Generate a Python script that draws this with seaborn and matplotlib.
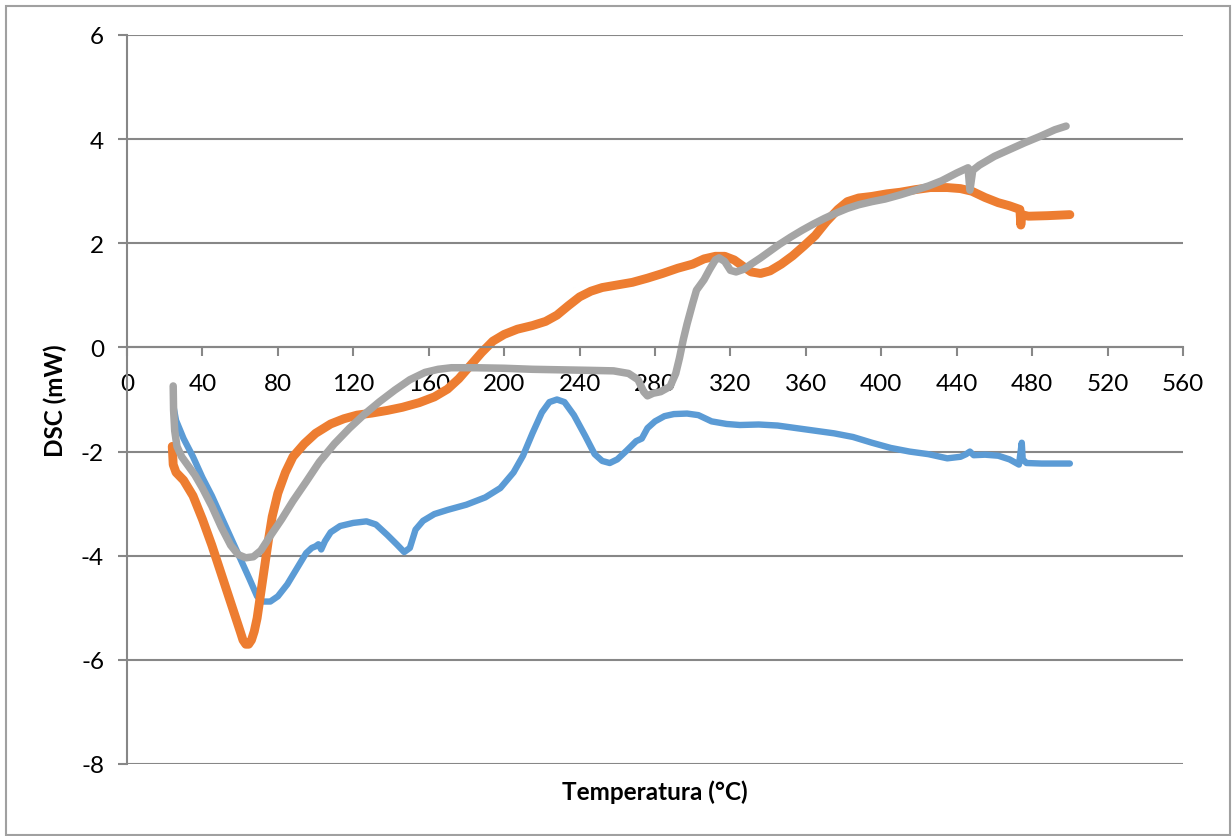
import numpy as np
import pandas as pd
import seaborn as sns
import matplotlib
matplotlib.use("Agg")
import matplotlib.pyplot as plt
from matplotlib.patches import Rectangle

# ---- data ----
blue_T = [24.5, 26, 30, 35, 40, 45, 50, 55, 60, 65, 69, 72, 76, 80, 85, 90, 95, 98, 100, 101.5, 103, 105,
          108, 113, 120, 127, 132, 138, 143, 147, 150, 153, 157, 163, 170, 180, 190, 198, 205, 210, 215,
          220, 224, 228, 232, 237, 243, 248, 252, 256, 260, 265, 270, 273, 276, 280, 285, 290, 297, 303,
          310, 318, 325, 335, 345, 355, 365, 375, 385, 395, 405, 415, 425, 435, 442, 445, 447, 449, 455,
          462, 468, 473, 474.5, 475, 477, 485, 500]
blue_v = [-1.1, -1.4, -1.75, -2.1, -2.5, -2.85, -3.25, -3.65, -4.05, -4.45, -4.78, -4.88, -4.88, -4.78,
          -4.55, -4.25, -3.95, -3.85, -3.82, -3.78, -3.88, -3.72, -3.55, -3.43, -3.37, -3.34, -3.4, -3.6,
          -3.78, -3.93, -3.85, -3.5, -3.33, -3.2, -3.12, -3.02, -2.88, -2.7, -2.4, -2.08, -1.65, -1.25,
          -1.05, -1.0, -1.05, -1.3, -1.7, -2.05, -2.18, -2.22, -2.15, -1.98, -1.8, -1.75, -1.55, -1.42,
          -1.32, -1.28, -1.27, -1.3, -1.42, -1.47, -1.49, -1.48, -1.5, -1.55, -1.6, -1.65, -1.72, -1.83,
          -1.93, -2.0, -2.05, -2.13, -2.1, -2.05, -2.0, -2.07, -2.06, -2.08, -2.15, -2.25, -1.83, -2.15,
          -2.22, -2.23, -2.23]

orange_T = [24, 24.5, 26, 30, 35, 40, 45, 50, 55, 60, 61.5, 63, 64.5, 66, 67.5, 69, 71, 73, 75, 77, 80,
            84, 88, 94, 100, 108, 115, 122, 130, 138, 146, 155, 163, 170, 176, 182, 188, 194, 200, 207,
            215, 222, 228, 234, 240, 246, 252, 260, 268, 276, 284, 292, 300, 306, 312, 317, 322, 327, 331,
            336, 341, 347, 353, 359, 365, 371, 377, 382, 388, 395, 403, 410, 418, 426, 435, 442, 448, 455,
            462, 468, 473.5, 474, 474.5, 478, 488, 500]
orange_v = [-1.9, -2.25, -2.4, -2.55, -2.85, -3.3, -3.8, -4.35, -4.9, -5.45, -5.62, -5.7, -5.7, -5.62,
            -5.45, -5.2, -4.7, -4.2, -3.7, -3.25, -2.8, -2.4, -2.1, -1.85, -1.65, -1.47, -1.37, -1.3,
            -1.26, -1.21, -1.15, -1.06, -0.95, -0.8, -0.6, -0.35, -0.1, 0.12, 0.25, 0.35, 0.42, 0.5,
            0.62, 0.8, 0.97, 1.08, 1.15, 1.2, 1.25, 1.33, 1.42, 1.52, 1.6, 1.7, 1.75, 1.75, 1.68, 1.55,
            1.45, 1.42, 1.47, 1.6, 1.76, 1.95, 2.15, 2.42, 2.65, 2.8, 2.87, 2.9, 2.95, 2.98, 3.03, 3.07,
            3.07, 3.05, 3.0, 2.88, 2.78, 2.72, 2.65, 2.35, 2.55, 2.52, 2.53, 2.55]

gray_T = [24.5, 24.7, 25.3, 26.5, 29, 32, 36, 40, 45, 50, 55, 59, 63, 67, 71, 76, 82, 88, 95, 102, 110,
          118, 126, 134, 142, 150, 158, 165, 172, 185, 200, 215, 230, 245, 258, 266, 271, 274, 276, 279,
          283, 288, 291, 293, 295, 297, 300, 302, 306, 309, 312, 314, 317, 320, 323, 327, 331, 336, 341,
          346, 352, 358, 364, 370, 376, 382, 388, 395, 402, 410, 418, 425, 432, 440, 446, 447, 448.5,
          452, 460, 468, 476, 484, 492, 498]
gray_v = [-0.74, -1.2, -1.6, -1.9, -2.1, -2.25, -2.45, -2.7, -3.05, -3.45, -3.8, -3.98, -4.04, -4.02,
          -3.9, -3.62, -3.3, -2.95, -2.58, -2.2, -1.85, -1.55, -1.28, -1.04, -0.82, -0.62, -0.48, -0.42,
          -0.39, -0.39, -0.4, -0.42, -0.43, -0.44, -0.45, -0.5, -0.62, -0.85, -0.93, -0.88, -0.85, -0.75,
          -0.5, -0.2, 0.15, 0.45, 0.85, 1.1, 1.3, 1.5, 1.68, 1.72, 1.65, 1.48, 1.45, 1.5, 1.6, 1.72, 1.85,
          1.98, 2.12, 2.25, 2.37, 2.48, 2.58, 2.67, 2.74, 2.8, 2.85, 2.93, 3.02, 3.1, 3.2, 3.35, 3.45,
          3.02, 3.4, 3.5, 3.67, 3.8, 3.93, 4.05, 4.18, 4.25]

x_ticks = [0, 40, 80, 120, 160, 200, 240, 280, 320, 360, 400, 440, 480, 520, 560]
y_ticks = [-8, -6, -4, -2, 0, 2, 4, 6]
x_label = "Temperatura (°C)"
y_label = "DSC (mW)"

# ---- styling ----
sns.set_theme(style="white")
plt.rcParams["font.family"] = ["Lato", "DejaVu Sans"]

AX_GRAY = "#878787"
fig = plt.figure(figsize=(12.32, 8.37), dpi=100)
ax = fig.add_axes([127 / 1232, 1 - 765 / 837, (1183 - 127) / 1232, (765 - 36) / 837])

series = [
    (blue_T, blue_v, "#5B9BD5", 4.6),
    (orange_T, orange_v, "#ED7D31", 6.4),
    (gray_T, gray_v, "#A5A5A5", 5.4),
]
for T, v, col, lw in series:
    df = pd.DataFrame({"T": T, "v": v})
    sns.lineplot(data=df, x="T", y="v", sort=False, estimator=None, color=col,
                 linewidth=lw, ax=ax, solid_capstyle="round", solid_joinstyle="round")

ax.set_xlim(0, 560)
ax.set_ylim(-8, 6)
ax.set_xticks(x_ticks)
ax.set_yticks(y_ticks)
ax.set_xticklabels([str(t) for t in x_ticks])
ax.set_yticklabels([str(t) for t in y_ticks])

ax.grid(False)
ax.yaxis.grid(True, color=AX_GRAY, linewidth=1.5)
ax.set_axisbelow(True)

for s in ["top", "right"]:
    ax.spines[s].set_visible(False)
ax.spines["bottom"].set_position(("data", 0))
ax.spines["bottom"].set_color(AX_GRAY)
ax.spines["bottom"].set_linewidth(1.5)
ax.spines["left"].set_color(AX_GRAY)
ax.spines["left"].set_linewidth(1.5)

ax.tick_params(axis="x", direction="out", length=6.5, width=1.5, color=AX_GRAY,
               labelsize=17.5, labelcolor="black", pad=12, bottom=True)
ax.tick_params(axis="y", direction="out", length=6.5, width=1.5, color=AX_GRAY,
               labelsize=17.5, labelcolor="black", pad=10, left=True)

ax.set_xlabel(x_label, fontsize=17.5, fontweight="bold", color="black")
ax.xaxis.set_label_coords(0.5, -0.038)
ax.xaxis.label.set_va("center")
ax.set_ylabel(y_label, fontsize=17.5, fontweight="bold", color="black")
ax.yaxis.set_label_coords(-0.068, 0.5)
ax.yaxis.label.set_va("center")

fig.patches.append(Rectangle((6 / 1232, 1 / 837), (1230 - 6) / 1232, (836 - 7) / 837,
                             transform=fig.transFigure, fill=False, edgecolor="#a0a0a0",
                             linewidth=1.5))

fig.savefig("out.png", dpi=100, facecolor="white")
